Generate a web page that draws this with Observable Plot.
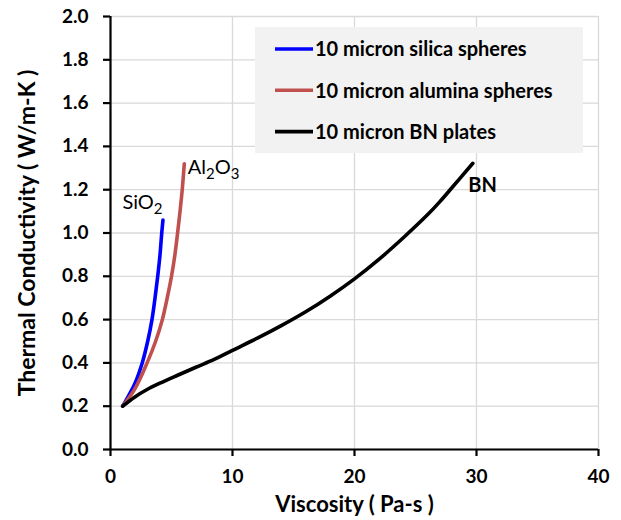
<!DOCTYPE html>
<html>
<head>
<meta charset="utf-8">
<script src="https://cdn.jsdelivr.net/npm/d3@7"></script>
<script src="https://cdn.jsdelivr.net/npm/@observablehq/plot@0.6"></script>
<style>
  html, body { margin: 0; padding: 0; background: #fff; }
  #chart svg { font-family: Lato, "Open Sans", sans-serif; display: block; }
</style>
</head>
<body>
<div id="chart"></div>
<script>
// Thermal conductivity vs viscosity for 10 micron fillers
const silicaViscosity = [1.0, 1.5, 2.0, 2.6, 3.05, 3.4, 3.65, 3.87, 4.06, 4.2, 4.3];
const silicaConductivity = [0.20, 0.25, 0.305, 0.40, 0.50, 0.60, 0.70, 0.80, 0.90, 1.00, 1.06];

const aluminaViscosity = [1.0, 2.0, 3.0, 3.7, 4.25, 4.65, 5.0, 5.28, 5.5, 5.7, 5.88, 6.05];
const aluminaConductivity = [0.20, 0.28, 0.40, 0.50, 0.60, 0.70, 0.80, 0.90, 1.00, 1.10, 1.20, 1.32];

const bnViscosity = [1.0, 2.0, 3.0, 4.0, 5.5, 7.0, 8.5, 10.0, 12.0, 14.0, 16.0, 18.0, 20.0, 22.0, 24.0, 26.0, 27.0, 28.0, 29.7];
const bnConductivity = [0.200, 0.243, 0.277, 0.305, 0.343, 0.380, 0.416, 0.458, 0.513, 0.572, 0.636, 0.708, 0.788, 0.878, 0.978, 1.085, 1.145, 1.210, 1.322];

const seriesNames = ["10 micron silica spheres", "10 micron alumina spheres", "10 micron BN plates"];
const seriesLabels = [["SiO", "2"], ["Al", "2", "O", "3"], ["BN"]];
const seriesColors = ["#0000ff", "#c0504d", "#000000"];

const xTicks = [0, 10, 20, 30, 40];
const yTicks = [0, 0.2, 0.4, 0.6, 0.8, 1.0, 1.2, 1.4, 1.6, 1.8, 2.0];
const xTitle = "Viscosity ( Pa-s )";
const yTitle = "Thermal Conductivity ( W/m-K )";

const series = [
  {name: seriesNames[0], color: seriesColors[0], xs: silicaViscosity, ys: silicaConductivity},
  {name: seriesNames[1], color: seriesColors[1], xs: aluminaViscosity, ys: aluminaConductivity},
  {name: seriesNames[2], color: seriesColors[2], xs: bnViscosity, ys: bnConductivity}
];
const rows = series.map(s => s.xs.map((x, i) => ({x, y: s.ys[i], name: s.name})));

const grid = "#d9d9d9";
const plot = Plot.plot({
  width: 621,
  height: 520,
  marginLeft: 110,
  marginRight: 23,
  marginTop: 16,
  marginBottom: 71,
  style: {fontFamily: "Lato, 'Open Sans', sans-serif", background: "#fff", overflow: "visible"},
  x: {domain: [0, 40]},
  y: {domain: [0, 2]},
  marks: [
    Plot.gridX(xTicks, {stroke: grid, strokeOpacity: 1, strokeWidth: 1.3}),
    Plot.gridY(yTicks, {stroke: grid, strokeOpacity: 1, strokeWidth: 1.3}),
    ...rows.map((r, i) => Plot.line(r, {x: "x", y: "y", stroke: series[i].color, strokeWidth: 3.6, curve: "catmull-rom"})),
    Plot.ruleX([0], {stroke: "#000", strokeWidth: 2.2}),
    Plot.ruleY([0], {stroke: "#000", strokeWidth: 2.2}),
    Plot.axisX(xTicks, {tickSize: 7, tickPadding: 13, strokeWidth: 2.2, fontSize: 19, fontWeight: "bold", fill: "#000", label: null}),
    Plot.axisY(yTicks, {tickSize: 7, tickPadding: 15, strokeWidth: 2.2, fontSize: 19, fontWeight: "bold", fill: "#000", tickFormat: d3.format(".1f"), label: null}),
    Plot.text([xTitle], {frameAnchor: "bottom", lineAnchor: "middle", textAnchor: "middle", dy: 55, fontSize: 22, fontWeight: "bold", fill: "#000"}),
    Plot.text([yTitle], {frameAnchor: "left", lineAnchor: "middle", textAnchor: "middle", dx: -83, rotate: -90, fontSize: 23, fontWeight: "bold", fill: "#000"})
  ]
});

const svg = d3.select(plot);
const sx = plot.scale("x"), sy = plot.scale("y");

// Legend box in the upper right of the frame
const legend = svg.append("g").attr("text-anchor", "start");
legend.append("rect").attr("x", 255).attr("y", 27).attr("width", 328).attr("height", 126).attr("fill", "#f2f2f2");
series.forEach((s, i) => {
  const ly = 49 + i * 41.3;
  legend.append("line").attr("x1", 275).attr("x2", 313).attr("y1", ly).attr("y2", ly)
    .attr("stroke", s.color).attr("stroke-width", 3.6);
  legend.append("text").attr("x", 315).attr("y", ly).attr("dy", "0.36em")
    .attr("font-size", 20).attr("font-weight", "bold").attr("fill", "#000").text(s.name);
});

// Curve labels placed relative to each curve's end point
const labelOffsets = [[-40, -11], [4, 11], [-4, 29]];
const labelWeights = ["normal", "normal", "bold"];
series.forEach((s, i) => {
  const n = s.xs.length - 1;
  const px = sx.apply(s.xs[n]) + labelOffsets[i][0];
  const py = sy.apply(s.ys[n]) + labelOffsets[i][1];
  const t = svg.append("text").attr("x", px).attr("y", py).attr("text-anchor", "start")
    .attr("font-size", 20).attr("font-weight", labelWeights[i]).attr("fill", "#000");
  seriesLabels[i].forEach((part, j) => {
    const sub = /^\d$/.test(part);
    t.append("tspan").attr("font-size", sub ? 15 : 20).attr("dy", sub ? 5 : (j > 0 ? -5 : 0)).text(part);
  });
});

document.getElementById("chart").appendChild(plot);
</script>
</body>
</html>
